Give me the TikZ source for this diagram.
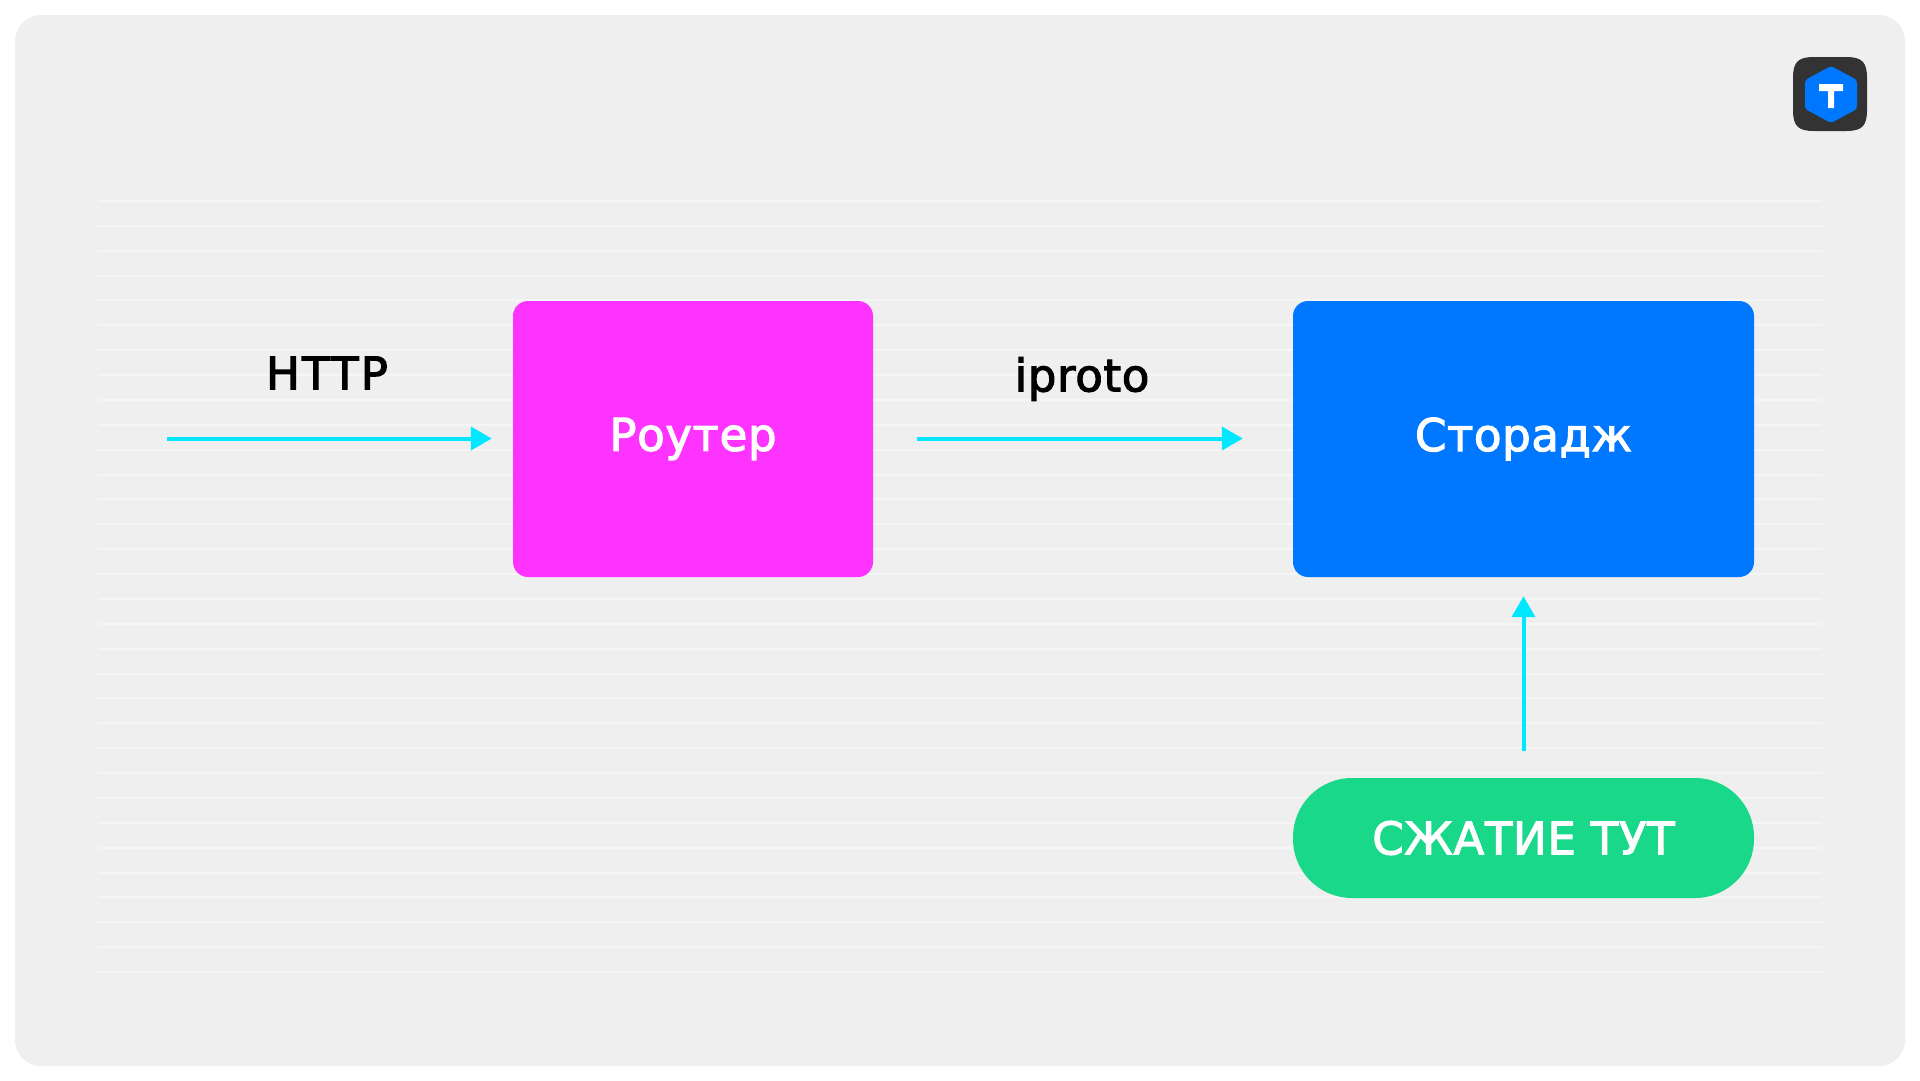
\documentclass[tikz,border=0pt]{standalone}
\usepackage{fontspec}
\setmainfont[FakeBold=2.5,LetterSpace=1.5]{DejaVu Sans}
\usetikzlibrary{arrows.meta, positioning, calc}
\definecolor{cardgray}{HTML}{EFEFEF}
\definecolor{gridgray}{HTML}{F5F5F5}
\definecolor{flowcyan}{HTML}{00E8FF}
\definecolor{routerpink}{HTML}{FF33FF}
\definecolor{storageblue}{HTML}{0077FF}
\definecolor{squeezegreen}{HTML}{19D88A}
\definecolor{logodark}{HTML}{333333}
\begin{document}
\begin{tikzpicture}[
  x=1pt, y=-1pt,
  flow/.style={draw=flowcyan, line width=4pt, -{Triangle[length=21pt,width=23pt]}},
  block/.style={rounded corners=15pt, text=white, font=\fontsize{45}{50}\selectfont, inner sep=0pt, minimum height=276pt},
  lbl/.style={font=\fontsize{45}{50}\selectfont, text=black, inner sep=0pt}
  ]
  \useasboundingbox (0,0) rectangle (1920,1080);
  % card and ruled lines
  \fill[white] (0,0) rectangle (1920,1080);
  \fill[cardgray, rounded corners=26pt] (15,15) rectangle (1905,1066);
  \foreach \row in {0,...,31} {
    \draw[gridgray, line width=2pt] (98,201+24.87*\row) -- (1822,201+24.87*\row);
  }
  % blocks
  \node[block, fill=routerpink, minimum width=360pt] (router) at (693,439) {Роутер};
  \node[block, fill=storageblue, minimum width=461pt] (storage) at (1523.5,439) {Сторадж};
  \node[block, fill=squeezegreen, minimum width=461pt, minimum height=120pt, rounded corners=59pt] (squeeze) at (1523.5,838) {СЖАТИЕ ТУТ};
  % arrows
  \coordinate (entry) at (167,438.5);
  \draw[flow, shorten >=21pt] (entry) -- (router.west |- entry);
  \draw[flow, shorten <=44pt, shorten >=50pt] (router.east |- entry) -- (storage.west |- entry);
  \draw[flow, shorten <=27pt, shorten >=19pt] (squeeze.north) -- (storage.south);
  \node[lbl] (http) at (327,373) {\addfontfeature{LetterSpace=5}HTTP};
  \node[lbl] (iproto) at (1082,379) {iproto};
  % logo
  \fill[logodark] (1793,78) .. controls (1793,62) and (1798,57) .. (1814,57) -- (1846,57) .. controls (1862,57) and (1867,62) .. (1867,78)
    -- (1867,110) .. controls (1867,126) and (1862,131) .. (1846,131) -- (1814,131) .. controls (1798,131) and (1793,126) .. (1793,110) -- cycle;
  \fill[storageblue, rounded corners=3pt] (1831,66) -- (1857,80) -- (1857,109) -- (1831,123) -- (1805,109) -- (1805,80) -- cycle;
  \fill[white] (1819,84) -- (1843,84) -- (1843,91) -- (1834,91) -- (1834,108) -- (1828,108) -- (1828,91) -- (1819,91) -- cycle;
\end{tikzpicture}
\end{document}
